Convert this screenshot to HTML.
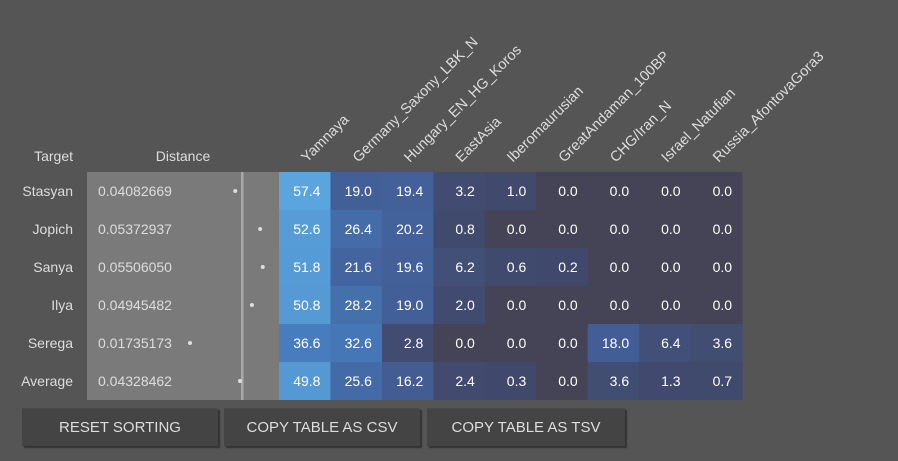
<!DOCTYPE html>
<html><head><meta charset="utf-8"><style>
html,body{margin:0;padding:0;background:#555;width:898px;height:461px;overflow:hidden;font-family:"Liberation Sans",sans-serif}
.btn{position:absolute;top:408px;height:37px;background:#444;color:#ddd;font-size:15px;line-height:37px;text-align:center;box-shadow:2px 2px 1px #333;border-top:1px solid #4a4a4a}
</style></head><body>
<svg id="chart" width="898" height="461" style="position:absolute;left:0;top:0"></svg>
<div class="btn" style="left:22px;width:196px">RESET SORTING</div>
<div class="btn" style="left:224px;width:196px">COPY TABLE AS CSV</div>
<div class="btn" style="left:427px;width:198px">COPY TABLE AS TSV</div>
<script>
const targets=["Stasyan","Jopich","Sanya","Ilya","Serega","Average"];
const distances=[0.04082669,0.05372937,0.05506050,0.04945482,0.01735173,0.04328462];
const columns=["Yamnaya","Germany_Saxony_LBK_N","Hungary_EN_HG_Koros","EastAsia","Iberomaurusian","GreatAndaman_100BP","CHG/Iran_N","Israel_Natufian","Russia_AfontovaGora3"];
const r0=[57.4,19.0,19.4,3.2,1.0,0.0,0.0,0.0,0.0];
const r1=[52.6,26.4,20.2,0.8,0.0,0.0,0.0,0.0,0.0];
const r2=[51.8,21.6,19.6,6.2,0.6,0.2,0.0,0.0,0.0];
const r3=[50.8,28.2,19.0,2.0,0.0,0.0,0.0,0.0,0.0];
const r4=[36.6,32.6,2.8,0.0,0.0,0.0,18.0,6.4,3.6];
const r5=[49.8,25.6,16.2,2.4,0.3,0.0,3.6,1.3,0.7];
const rows=[r0,r1,r2,r3,r4,r5];
const NS="http://www.w3.org/2000/svg";
const svg=document.getElementById('chart');
const x0=279,cw=51.45,y0=172,rh=38;
const colX=i=>x0+i*cw;
const rowY=i=>y0+i*rh;
const distX=d=>190+(d-0.01735)*1928;
const stops=[[0,[69,67,86]],[0.1,[64,73,108]],[3,[66,76,112]],[19,[67,95,152]],[28,[68,112,172]],[36,[70,124,190]],[50,[84,152,212]],[58,[90,166,222]],[100,[100,180,230]]];
function color(v){for(let i=1;i<stops.length;i++){if(v<=stops[i][0]){const[a,ca]=stops[i-1],[b,cb]=stops[i];const t=(v-a)/(b-a);return 'rgb('+ca.map((c,k)=>Math.round(c+(cb[k]-c)*t)).join(',')+')';}}return 'rgb(100,180,230)';}
function mk(tag,attrs,text){const e=document.createElementNS(NS,tag);for(const k in attrs)e.setAttribute(k,attrs[k]);if(text!==undefined)e.textContent=text;svg.appendChild(e);return e;}
let e;
e=mk('rect',{x:87,y:y0,width:x0-87,height:rh*rows.length,fill:'#7a7a7a'});


e=mk('rect',{x:241,y:y0,width:2.5,height:rh*rows.length,fill:'#aaa'});


e=mk('text',{x:73,y:161,'text-anchor':'end','font-size':14,fill:'#ddd'},'Target');


e=mk('text',{x:183,y:161,'text-anchor':'middle','font-size':14,fill:'#ddd'},'Distance');


columns.forEach((c,i)=>{
  const x=colX(i)+28,y=163;
  e=mk('text',{x:x,y:y,'font-size':14.5,fill:'#ddd',transform:`rotate(-45 ${x} ${y})`},c);
  
  
});
rows.forEach((r,ri)=>{
  const y=rowY(ri);
  e=mk('text',{x:73,y:y+24,'text-anchor':'end','font-size':14,fill:'#ddd'},targets[ri]);
  
  
  e=mk('text',{x:98,y:y+24,'font-size':14,fill:'#ddd'},distances[ri].toFixed(8));
  
  
  e=mk('circle',{cx:distX(distances[ri]),cy:y+19,r:2,fill:'#ddd'});
  
  
  r.forEach((v,ci)=>{
    e=mk('rect',{x:colX(ci),y:y,width:cw+0.5,height:rh,fill:color(v)});
    
    
    e=mk('text',{x:colX(ci)+cw-10,y:y+24,'text-anchor':'end','font-size':14,fill:'#fff'},v.toFixed(1));
    
    
  });
});
</script>
</body></html>
